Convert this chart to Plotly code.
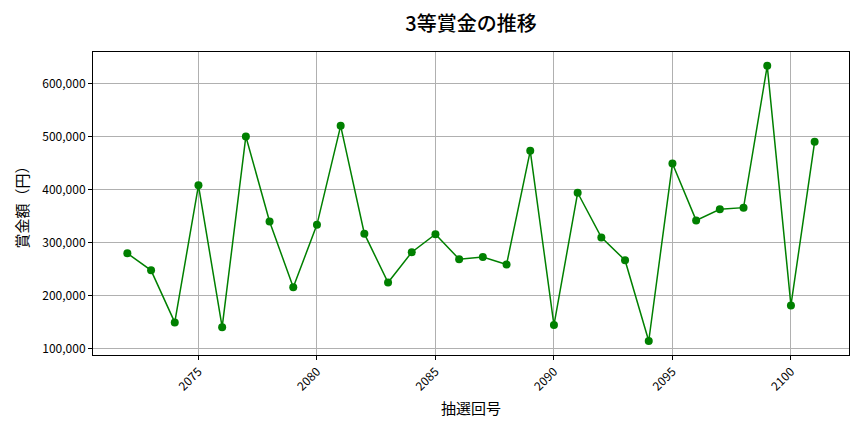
import plotly.graph_objects as go

# 抽選回号 and 3等賞金
draw_numbers = list(range(2072, 2102))
prize_yen = [
    280000, 248000, 150000, 408000, 141000, 500000, 340000, 216000, 334000, 520000,
    317000, 225000, 282000, 316000, 269000, 273000, 259000, 473000, 145000, 394000,
    310000, 267000, 115000, 449000, 342000, 363000, 366000, 633000, 182000, 490000,
]

font_name = "Noto Sans CJK JP"

fig = go.Figure()

fig.add_trace(go.Scatter(
    x=draw_numbers,
    y=prize_yen,
    mode="lines+markers",
    line={"color": "green", "width": 1.5},
    marker={"color": "green", "size": 8},
    showlegend=False,
))

axis_common = dict(
    showline=True,
    linecolor="black",
    linewidth=1,
    mirror=True,
    ticks="outside",
    ticklen=4,
    tickcolor="black",
    showgrid=True,
    gridcolor="#b0b0b0",
    gridwidth=1,
    zeroline=False,
    tickfont={"size": 12, "color": "black"},
)

# the page body has an 8px margin, so the margins are shifted to compensate
fig.update_layout(
    width=864,
    height=432,
    margin={"l": 85, "r": 23, "t": 44, "b": 85},
    paper_bgcolor="white",
    plot_bgcolor="white",
    font={"family": font_name, "color": "black"},
    title={
        "text": "3等賞金の推移",
        "xref": "paper",
        "x": 0.5,
        "xanchor": "center",
        "y": 0.963,
        "yanchor": "middle",
        "font": {"size": 20, "weight": 500},
    },
    xaxis=dict(
        axis_common,
        range=[2070.55, 2102.45],
        tickvals=[2075, 2080, 2085, 2090, 2095, 2100],
        tickangle=-45,
        title={"text": "抽選回号", "font": {"size": 15}, "standoff": 10},
    ),
    yaxis=dict(
        axis_common,
        range=[88600, 659000],
        tickvals=[100000, 200000, 300000, 400000, 500000, 600000],
        tickformat=",",
        title={"text": "賞金額（円）", "font": {"size": 15}, "standoff": 10},
    ),
)

fig.write_html("out.html")
